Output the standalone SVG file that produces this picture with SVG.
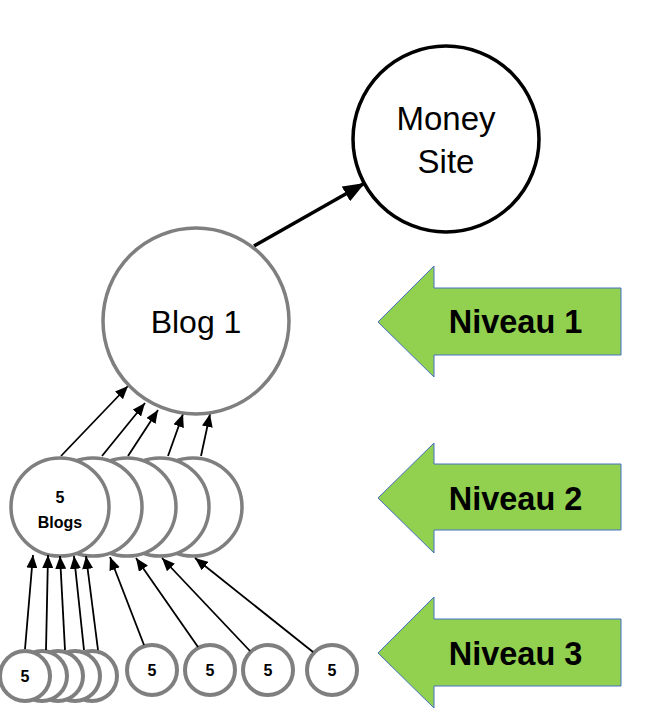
<svg xmlns="http://www.w3.org/2000/svg" width="667" height="713" viewBox="0 0 667 713">
<style>
.node{fill:#fff;stroke:#7f7f7f;stroke-width:3.5}
.small{fill:#fff;stroke:#7f7f7f;stroke-width:4}
.lbl{font-family:"Liberation Sans",Arial,sans-serif;fill:#000;text-anchor:middle}
.bold{font-weight:bold}
.conn{stroke:#000;stroke-width:1.8;fill:none;marker-end:url(#ah)}
.green{fill:#92d050;stroke:#4472c4;stroke-width:1}
</style>
<defs>
<marker id="ah" markerUnits="userSpaceOnUse" markerWidth="13" markerHeight="11" refX="13" refY="5.5" orient="auto" viewBox="0 0 13 11">
<path d="M0,0 L13,5.5 L0,11 z" fill="#000"/>
</marker>
<marker id="ahBig" markerUnits="userSpaceOnUse" markerWidth="22" markerHeight="17" refX="22" refY="8.5" orient="auto" viewBox="0 0 22 17">
<path d="M0,0 L22,8.5 L0,17 z" fill="#000"/>
</marker>
</defs>

<g id="connectors">
<line x1="254" y1="246" x2="365" y2="183" stroke="#000" stroke-width="3.5" marker-end="url(#ahBig)"/>
<line class="conn" x1="61" y1="456" x2="128" y2="386"/>
<line class="conn" x1="102" y1="456" x2="145" y2="403"/>
<line class="conn" x1="128" y1="456" x2="158" y2="410"/>
<line class="conn" x1="168" y1="456" x2="183" y2="414"/>
<line class="conn" x1="201" y1="456" x2="210" y2="414"/>
</g>

<g id="money-site">
<circle cx="446" cy="139" r="93" fill="#fff" stroke="#000" stroke-width="3.5"/>
<text class="lbl" x="446" y="130" font-size="33">Money</text>
<text class="lbl" x="446" y="173" font-size="33">Site</text>
</g>

<g id="blog-1">
<circle class="node" cx="196" cy="321" r="93"/>
<text class="lbl" x="196" y="333" font-size="32">Blog 1</text>
</g>

<g id="level2-blogs">
<circle class="node" cx="193" cy="507" r="49"/>
<circle class="node" cx="160" cy="507" r="49"/>
<circle class="node" cx="127" cy="507" r="49"/>
<circle class="node" cx="93" cy="507" r="49"/>
<circle class="node" cx="60" cy="507" r="49"/>
<text class="lbl bold" x="60" y="503" font-size="16">5</text>
<text class="lbl bold" x="60" y="528" font-size="16">Blogs</text>
</g>

<g id="level3-stack">
<circle class="small" cx="92" cy="676" r="25"/>
<circle class="small" cx="75" cy="676" r="25"/>
<circle class="small" cx="58" cy="676" r="25"/>
<circle class="small" cx="42" cy="676" r="25"/>
<circle class="small" cx="25" cy="676" r="25"/>
<text class="lbl bold" x="25" y="682" font-size="16">5</text>
</g>
<g id="level3-a">
<circle class="small" cx="152" cy="670" r="25"/>
<text class="lbl bold" x="152" y="676" font-size="16">5</text>
</g>
<g id="level3-b">
<circle class="small" cx="210" cy="670" r="25"/>
<text class="lbl bold" x="210" y="676" font-size="16">5</text>
</g>
<g id="level3-c">
<circle class="small" cx="268" cy="670" r="25"/>
<text class="lbl bold" x="268" y="676" font-size="16">5</text>
</g>
<g id="level3-d">
<circle class="small" cx="332" cy="670" r="25"/>
<text class="lbl bold" x="332" y="676" font-size="16">5</text>
</g>

<g id="connectors-level3">
<line class="conn" x1="25" y1="649" x2="33" y2="555"/>
<line class="conn" x1="46" y1="650" x2="48" y2="555"/>
<line class="conn" x1="65" y1="650" x2="60" y2="556"/>
<line class="conn" x1="84" y1="650" x2="74" y2="556"/>
<line class="conn" x1="98" y1="650" x2="86" y2="556"/>
<line class="conn" x1="144" y1="645" x2="110" y2="557" stroke="#6a6a6a"/>
<line class="conn" x1="198" y1="647" x2="136" y2="558"/>
<line class="conn" x1="250" y1="651" x2="162" y2="558"/>
<line class="conn" x1="313" y1="652" x2="195" y2="558"/>
</g>

<g id="niveau-1">
<path class="green" d="M378,322 L434,266 L434,288 L621,288 L621,355 L434,355 L434,377 Z"/>
<text class="lbl bold" x="515.5" y="333" font-size="32.5">Niveau 1</text>
</g>
<g id="niveau-2">
<path class="green" d="M378,498 L434,443 L434,464 L621,464 L621,530 L434,530 L434,553 Z"/>
<text class="lbl bold" x="515.5" y="510" font-size="32.5">Niveau 2</text>
</g>
<g id="niveau-3">
<path class="green" d="M378,653 L434,597 L434,619 L621,619 L621,686 L434,686 L434,708 Z"/>
<text class="lbl bold" x="515.5" y="665" font-size="32.5">Niveau 3</text>
</g>
</svg>
